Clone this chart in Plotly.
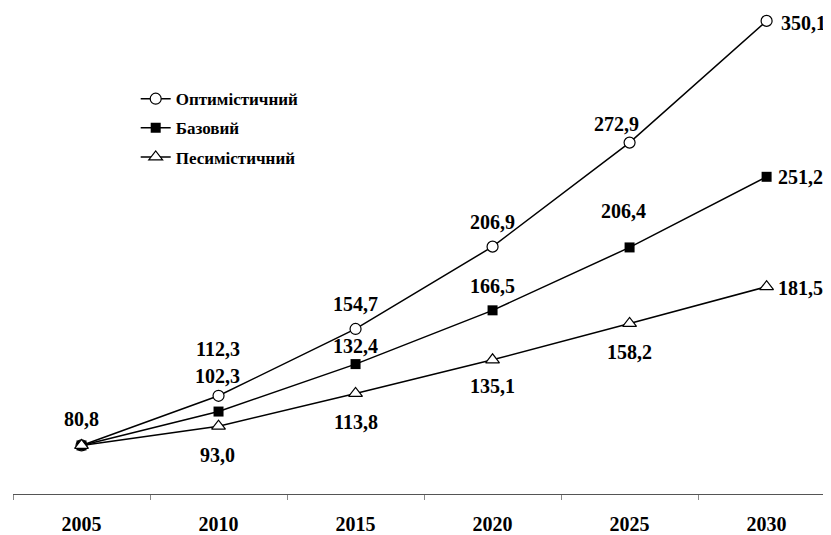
import plotly.graph_objects as go

years = ["2005", "2010", "2015", "2020", "2025", "2030"]
optimistic = [80.8, 112.3, 154.7, 206.9, 272.9, 350.1]
base = [80.8, 102.3, 132.4, 166.5, 206.4, 251.2]
pessimistic = [80.8, 93.0, 113.8, 135.1, 158.2, 181.5]
names = ["Оптимістичний", "Базовий", "Песимістичний"]

def fmt(v):
    return f"{v:.1f}".replace(".", ",")

FONT = "Liberation Serif"
fig = go.Figure()
markers = [
    dict(symbol="circle", size=11, color="white", line=dict(color="black", width=1.2)),
    dict(symbol="square", size=10, color="black", line=dict(color="black", width=0)),
    dict(symbol="triangle-up", size=12, color="white", line=dict(color="black", width=1.2)),
]
all_vals = [optimistic, base, pessimistic]
for k, (vals, mk, nm) in enumerate(zip(all_vals, markers, names)):
    fig.add_trace(go.Scatter(x=years, y=vals, mode="lines+markers", name=nm,
                             legendgroup=f"g{k}",
                             line=dict(color="black", width=1.5), marker=mk,
                             cliponaxis=False))

# label placement (xshift px, yshift px, xanchor) per series per point
offs = [
    [None, (-1, 47, "center"), (0, 25, "center"), (0, 25, "center"), (-13, 19, "center"), (12, -2, "left")],
    [(0, 26, "center"), (-1, 36, "center"), (0, 18, "center"), (0, 24, "center"), (-6, 36, "center"), (9, 0, "left")],
    [None, (-1, -29, "center"), (0, -29, "center"), (0, -26, "center"), (0, -29, "center"), (9, -1, "left")],
]
for si, vals in enumerate(all_vals):
    for i, v in enumerate(vals):
        o = offs[si][i]
        if o is None:
            continue
        fig.add_annotation(x=i, y=v, xref="x", yref="y", text=fmt(v), showarrow=False,
                           xshift=o[0], yshift=o[1], xanchor=o[2], yanchor="middle",
                           font=dict(family=FONT, size=20, color="black", weight="bold"))

fig.update_layout(
    width=823, height=527,
    margin=dict(l=5, r=0, t=2, b=37),
    plot_bgcolor="white", paper_bgcolor="white",
    showlegend=True,
    legend=dict(x=0.150, y=0.853, xanchor="left", yanchor="top",
                font=dict(family=FONT, size=17, color="black", weight="bold"),
                bgcolor="rgba(0,0,0,0)", itemwidth=30, tracegroupgap=4,
                traceorder="grouped"),
    font=dict(family=FONT, color="black"),
)
fig.update_xaxes(type="category", range=[-0.5, 5.47], showline=True, linecolor="#555555",
                 linewidth=1, ticks="outside", tickson="boundaries", ticklen=5,
                 tickcolor="#888888", showgrid=False, zeroline=False,
                 ticklabelstandoff=12,
                 tickfont=dict(family=FONT, size=20, color="black", weight="bold"))
fig.update_yaxes(range=[50, 357], visible=False, showgrid=False, zeroline=False)
fig.write_html("out.html")
